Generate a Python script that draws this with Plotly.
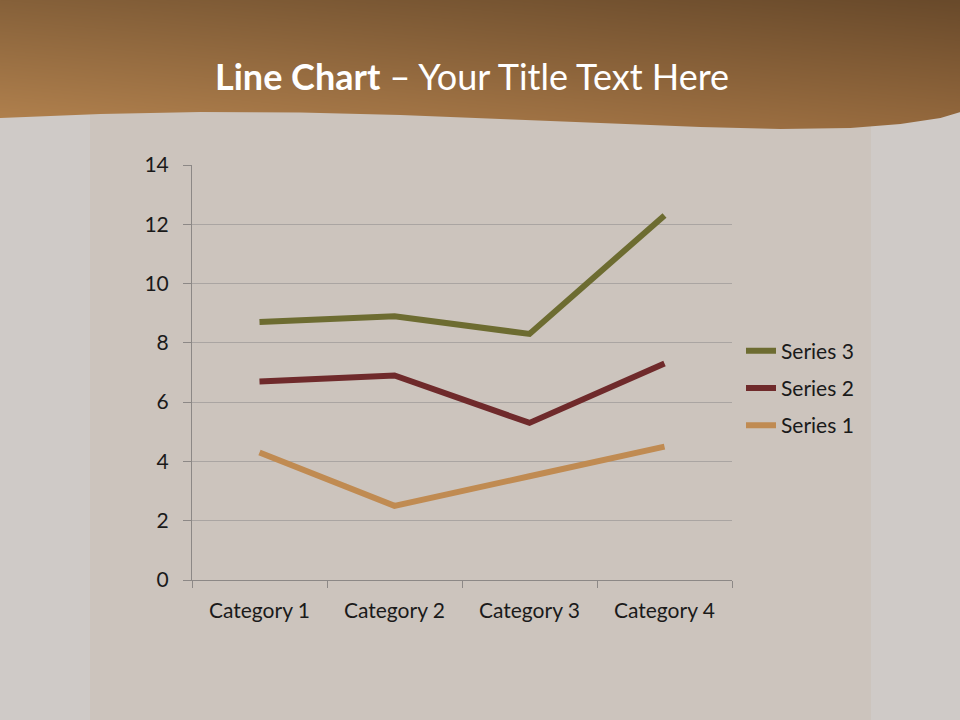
import base64, struct, zlib
import numpy as np
import plotly.graph_objects as go

# ---------------- data ----------------
categories = ["Category 1", "Category 2", "Category 3", "Category 4"]
series1 = [4.3, 2.5, 3.5, 4.5]
series2 = [6.7, 6.9, 5.3, 7.3]
series3 = [8.7, 8.9, 8.3, 12.3]
series_names = ["Series 1", "Series 2", "Series 3"]
series_colors = ["#c08b52", "#6f2a2b", "#6d6c31"]
legend_ranks = [3, 2, 1]
y_ticks = [0, 2, 4, 6, 8, 10, 12, 14]

W, H = 960, 720
FONT = "Lato"

# ---------------- background picture (decoration) ----------------
def make_png(rgb):
    h, w, _ = rgb.shape
    raw = b"".join(b"\x00" + rgb[r].tobytes() for r in range(h))
    def chunk(tag, data):
        return struct.pack(">I", len(data)) + tag + data + struct.pack(">I", zlib.crc32(tag + data) & 0xFFFFFFFF)
    return (b"\x89PNG\r\n\x1a\n" + chunk(b"IHDR", struct.pack(">IIBBBBB", w, h, 8, 2, 0, 0, 0))
            + chunk(b"IDAT", zlib.compress(raw, 9)) + chunk(b"IEND", b""))

yy, xx = np.mgrid[0:H, 0:W].astype(float)
outer = np.array([207, 202, 199], float)
inner = np.array([204, 196, 189], float)
img = np.empty((H, W, 3), float)
img[:] = outer
mid = (xx >= 90) & (xx <= 870)
img[mid] = inner
# banner gradient
u = xx / W
v = np.clip(yy / 130.0, 0, 1)
TL = np.array([0x86, 0x61, 0x3a], float)
TR = np.array([0x69, 0x4a, 0x2b], float)
BL = np.array([0xb4, 0x83, 0x4f], float)
BR = np.array([0x96, 0x6a, 0x3e], float)
band = (TL * ((1 - u) * (1 - v))[..., None] + TR * (u * (1 - v))[..., None]
        + BL * ((1 - u) * v)[..., None] + BR * (u * v)[..., None])
wx = [0, 100, 200, 300, 400, 500, 600, 700, 780, 850, 900, 940, 960]
wy = [118, 114, 112, 112.5, 115, 119, 123, 127, 129, 128, 124, 118, 112]
edge = np.interp(np.arange(W), wx, wy)
cover = np.clip(edge[None, :] - yy, 0, 1)[..., None]
img = band * cover + img * (1 - cover)
png = make_png(np.clip(img, 0, 255).astype(np.uint8))
src = "data:image/png;base64," + base64.b64encode(png).decode()

# ---------------- figure ----------------
fig = go.Figure()
for name, vals, col, rank in zip(series_names, [series1, series2, series3], series_colors, legend_ranks):
    fig.add_trace(go.Scatter(x=categories, y=vals, name=name, mode="lines", legendgroup=name,
                             legendrank=rank, line=dict(color=col, width=6)))

x0, x1, y_top, y_bot = 192, 732, 165, 580
fig.update_layout(
    width=W, height=H,
    margin=dict(l=0, r=0, t=0, b=0, pad=0, autoexpand=False),
    paper_bgcolor="rgb(207,202,199)",
    plot_bgcolor="rgba(0,0,0,0)",
    font=dict(family=FONT, color="#1a1a1a", size=21),
    images=[dict(source=src, xref="paper", yref="paper", x=0, y=1, sizex=1, sizey=1,
                 sizing="stretch", xanchor="left", yanchor="top", layer="below")],
    xaxis=dict(domain=[x0 / W, x1 / W], range=[-0.5, 3.5], showgrid=False, automargin=False,
               showline=True, linecolor="#8c8886", linewidth=1,
               ticks="outside", tickson="boundaries", ticklen=7, tickcolor="#8c8886",
               tickfont=dict(size=21, color="#1a1a1a"), ticklabelstandoff=12),
    yaxis=dict(domain=[1 - y_bot / H, 1 - y_top / H], range=[0, 14], tickvals=y_ticks,
               automargin=False,
               showgrid=True, gridcolor="#aaa5a2", gridwidth=1, zeroline=False,
               showline=True, linecolor="#8c8886", linewidth=1,
               ticks="outside", ticklen=8, tickcolor="#8c8886",
               tickfont=dict(size=21, color="#1a1a1a"), ticklabelstandoff=10),
    legend=dict(x=741 / W, y=1 - 388 / H, xanchor="left", yanchor="middle",
                traceorder="grouped", bgcolor="rgba(0,0,0,0)",
                font=dict(size=21, color="#1a1a1a"), itemwidth=30, tracegroupgap=7),
    showlegend=True,
    annotations=[dict(text="<b>Line Chart</b> – Your Title Text Here", xref="paper", yref="paper",
                      x=472 / W, y=1 - 76 / H, xanchor="center", yanchor="middle",
                      showarrow=False, font=dict(family=FONT, size=36, color="white"))],
)
fig.write_html("out.html", config={"displayModeBar": False},
               post_script="document.body.style.margin='0';document.body.style.overflow='hidden';")
